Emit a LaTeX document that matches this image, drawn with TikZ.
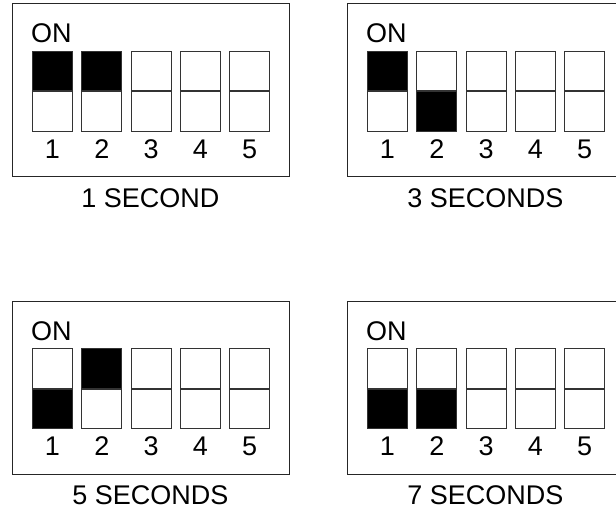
\documentclass[tikz,border=0pt]{standalone}
\usepackage{fontspec}
\setmainfont{Liberation Sans}
\usepackage{tikz}
\usetikzlibrary{positioning}

\begin{document}
\begin{tikzpicture}[
    x=1pt, y=-1pt,
    font=\fontsize{27}{30}\selectfont,
    panel/.style={draw=black!85, line width=1.2pt, minimum width=277pt,
                  minimum height=173pt, inner sep=0pt, anchor=north west},
    half/.style={draw=black!80, line width=1pt, minimum width=40pt,
                 minimum height=39.5pt, inner sep=0pt},
    wht/.style={half, fill=white},
    blk/.style={half, fill=black},
    num/.style={inner sep=0pt},
    onlab/.style={inner sep=0pt, anchor=north west},
    caplab/.style={inner sep=0pt},
  ]
  \clip (0,0) rectangle (616,511);

  %% ---- 1 second -------------------------------------------------------
  \begin{scope}[shift={(12,3)}]
    \node[panel] (b1) at (0,0) {};
    \node[onlab] (on1) at (19,20.5) {ON};
    \foreach \i/\su/\sd in {1/blk/wht, 2/blk/wht, 3/wht/wht, 4/wht/wht, 5/wht/wht} {
      \node[\su, anchor=north west] (p1u\i) at ({20+(\i-1)*49.3},48) {};
      \node[\sd, anchor=north] (p1d\i) at (p1u\i.south) {};
      \node[num] (p1n\i) at ([yshift=-17.5pt]p1d\i.south) {\i};
    }
    \node[caplab] (c1) at (138.5,195) {1 SECOND};
  \end{scope}

  %% ---- 3 seconds ------------------------------------------------------
  \begin{scope}[shift={(347,3)}]
    \node[panel] (b2) at (0,0) {};
    \node[onlab] (on2) at (19,20.5) {ON};
    \foreach \i/\su/\sd in {1/blk/wht, 2/wht/blk, 3/wht/wht, 4/wht/wht, 5/wht/wht} {
      \node[\su, anchor=north west] (p2u\i) at ({20+(\i-1)*49.3},48) {};
      \node[\sd, anchor=north] (p2d\i) at (p2u\i.south) {};
      \node[num] (p2n\i) at ([yshift=-17.5pt]p2d\i.south) {\i};
    }
    \node[caplab] (c2) at (138.5,195) {3 SECONDS};
  \end{scope}

  %% ---- 5 seconds ------------------------------------------------------
  \begin{scope}[shift={(12,301)}]
    \node[panel] (b3) at (0,0) {};
    \node[onlab] (on3) at (19,20.5) {ON};
    \foreach \i/\su/\sd in {1/wht/blk, 2/blk/wht, 3/wht/wht, 4/wht/wht, 5/wht/wht} {
      \node[\su, anchor=north west] (p3u\i) at ({20+(\i-1)*49.3},47) {};
      \node[\sd, anchor=north] (p3d\i) at (p3u\i.south) {};
      \node[num] (p3n\i) at ([yshift=-17.5pt]p3d\i.south) {\i};
    }
    \node[caplab] (c3) at (138.5,194) {5 SECONDS};
  \end{scope}

  %% ---- 7 seconds ------------------------------------------------------
  \begin{scope}[shift={(347,301)}]
    \node[panel] (b4) at (0,0) {};
    \node[onlab] (on4) at (19,20.5) {ON};
    \foreach \i/\su/\sd in {1/wht/blk, 2/wht/blk, 3/wht/wht, 4/wht/wht, 5/wht/wht} {
      \node[\su, anchor=north west] (p4u\i) at ({20+(\i-1)*49.3},47) {};
      \node[\sd, anchor=north] (p4d\i) at (p4u\i.south) {};
      \node[num] (p4n\i) at ([yshift=-17.5pt]p4d\i.south) {\i};
    }
    \node[caplab] (c4) at (138.5,194) {7 SECONDS};
  \end{scope}

\end{tikzpicture}
\end{document}
